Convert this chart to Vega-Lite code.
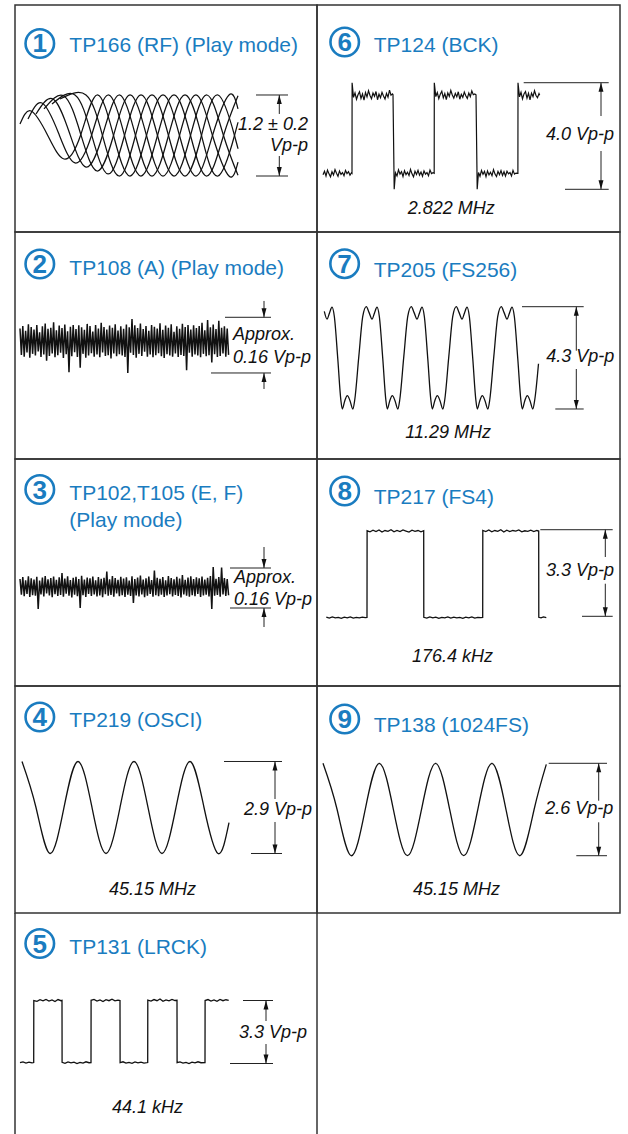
{
"$schema": "https://vega.github.io/schema/vega-lite/v6.json",
"padding": {"left": 14, "top": 4, "right": 0, "bottom": 0},
"background": "white",
"columns": 2,
"spacing": 0,
"bounds": "flush",
"resolve": {"scale": {"x": "independent", "y": "independent"}},
"config": {"view": {"stroke": "#333", "strokeWidth": 1.5}, "font": "Liberation Sans", "concat": {"spacing": 0}},
"datasets": {
"w": [
{"p":1,"s":0,"t":50,"v":0.170},{"p":1,"s":0,"t":160,"v":0.363},{"p":1,"s":0,"t":325,"v":0.008},{"p":1,"s":0,"t":490,"v":-0.348},{"p":1,"s":0,"t":655,"v":0},{"p":1,"s":0,"t":820,"v":0.6},{"p":1,"s":0,"t":985,"v":0},{"p":1,"s":0,"t":1150,"v":-0.6},{"p":1,"s":0,"t":1315,"v":0},{"p":1,"s":0,"t":1480,"v":0.6},{"p":1,"s":0,"t":1645,"v":0},{"p":1,"s":0,"t":1810,"v":-0.6},{"p":1,"s":0,"t":1975,"v":0},{"p":1,"s":0,"t":2140,"v":0.6},{"p":1,"s":0,"t":2230,"v":0.394},
{"p":1,"s":1,"t":130,"v":0.244},{"p":1,"s":1,"t":270,"v":0.481},{"p":1,"s":1,"t":435,"v":0.037},{"p":1,"s":1,"t":600,"v":-0.407},{"p":1,"s":1,"t":765,"v":0},{"p":1,"s":1,"t":930,"v":0.6},{"p":1,"s":1,"t":1095,"v":0},{"p":1,"s":1,"t":1260,"v":-0.6},{"p":1,"s":1,"t":1425,"v":0},{"p":1,"s":1,"t":1590,"v":0.6},{"p":1,"s":1,"t":1755,"v":0},{"p":1,"s":1,"t":1920,"v":-0.6},{"p":1,"s":1,"t":2085,"v":0},{"p":1,"s":1,"t":2230,"v":0.589},
{"p":1,"s":2,"t":210,"v":0.319},{"p":1,"s":2,"t":380,"v":0.541},{"p":1,"s":2,"t":545,"v":0.037},{"p":1,"s":2,"t":710,"v":-0.467},{"p":1,"s":2,"t":875,"v":0},{"p":1,"s":2,"t":1040,"v":0.6},{"p":1,"s":2,"t":1205,"v":0},{"p":1,"s":2,"t":1370,"v":-0.6},{"p":1,"s":2,"t":1535,"v":0},{"p":1,"s":2,"t":1700,"v":0.6},{"p":1,"s":2,"t":1865,"v":0},{"p":1,"s":2,"t":2030,"v":-0.6},{"p":1,"s":2,"t":2195,"v":0},{"p":1,"s":2,"t":2230,"v":0.196},
{"p":1,"s":3,"t":290,"v":0.393},{"p":1,"s":3,"t":490,"v":0.585},{"p":1,"s":3,"t":655,"v":0.030},{"p":1,"s":3,"t":820,"v":-0.526},{"p":1,"s":3,"t":985,"v":0},{"p":1,"s":3,"t":1150,"v":0.6},{"p":1,"s":3,"t":1315,"v":0},{"p":1,"s":3,"t":1480,"v":-0.6},{"p":1,"s":3,"t":1645,"v":0},{"p":1,"s":3,"t":1810,"v":0.6},{"p":1,"s":3,"t":1975,"v":0},{"p":1,"s":3,"t":2140,"v":-0.6},{"p":1,"s":3,"t":2230,"v":-0.394},
{"p":1,"s":4,"t":370,"v":0.467},{"p":1,"s":4,"t":600,"v":0.6},{"p":1,"s":4,"t":765,"v":0.015},{"p":1,"s":4,"t":930,"v":-0.570},{"p":1,"s":4,"t":1095,"v":0},{"p":1,"s":4,"t":1260,"v":0.6},{"p":1,"s":4,"t":1425,"v":0},{"p":1,"s":4,"t":1590,"v":-0.6},{"p":1,"s":4,"t":1755,"v":0},{"p":1,"s":4,"t":1920,"v":0.6},{"p":1,"s":4,"t":2085,"v":0},{"p":1,"s":4,"t":2230,"v":-0.589},
{"p":1,"s":5,"t":450,"v":0.541},{"p":1,"s":5,"t":710,"v":0.6},{"p":1,"s":5,"t":875,"v":0},{"p":1,"s":5,"t":1040,"v":-0.6},{"p":1,"s":5,"t":1205,"v":0},{"p":1,"s":5,"t":1370,"v":0.6},{"p":1,"s":5,"t":1535,"v":0},{"p":1,"s":5,"t":1700,"v":-0.6},{"p":1,"s":5,"t":1865,"v":0},{"p":1,"s":5,"t":2030,"v":0.6},{"p":1,"s":5,"t":2195,"v":0},{"p":1,"s":5,"t":2230,"v":-0.196},
{"p":2,"t":50,"v":0.048},{"p":2,"t":64,"v":-0.028},{"p":2,"t":78,"v":0.055},{"p":2,"t":92,"v":-0.033},{"p":2,"t":106,"v":0.041},{"p":2,"t":120,"v":-0.021},{"p":2,"t":134,"v":0.060},{"p":2,"t":148,"v":-0.036},{"p":2,"t":162,"v":0.052},{"p":2,"t":176,"v":-0.025},{"p":2,"t":190,"v":0.045},{"p":2,"t":204,"v":-0.030},{"p":2,"t":218,"v":0.058},{"p":2,"t":232,"v":-0.018},{"p":2,"t":246,"v":0.037},{"p":2,"t":260,"v":-0.034},{"p":2,"t":274,"v":0.054},{"p":2,"t":288,"v":-0.027},{"p":2,"t":302,"v":0.062},{"p":2,"t":316,"v":-0.045},{"p":2,"t":330,"v":0.047},{"p":2,"t":344,"v":-0.031},{"p":2,"t":358,"v":0.050},{"p":2,"t":372,"v":-0.024},{"p":2,"t":386,"v":0.066},{"p":2,"t":400,"v":-0.035},{"p":2,"t":414,"v":0.043},{"p":2,"t":428,"v":-0.029},{"p":2,"t":442,"v":0.056},{"p":2,"t":456,"v":-0.022},{"p":2,"t":470,"v":0.049},{"p":2,"t":484,"v":-0.037},{"p":2,"t":498,"v":0.059},{"p":2,"t":512,"v":-0.026},{"p":2,"t":526,"v":0.040},{"p":2,"t":540,"v":-0.078},{"p":2,"t":554,"v":0.053},{"p":2,"t":568,"v":-0.032},{"p":2,"t":582,"v":0.058},{"p":2,"t":596,"v":-0.020},{"p":2,"t":610,"v":0.046},{"p":2,"t":624,"v":-0.034},{"p":2,"t":638,"v":0.057},{"p":2,"t":652,"v":-0.065},{"p":2,"t":666,"v":0.051},{"p":2,"t":680,"v":-0.025},{"p":2,"t":694,"v":0.044},{"p":2,"t":708,"v":-0.036},{"p":2,"t":722,"v":0.061},{"p":2,"t":736,"v":-0.030},{"p":2,"t":750,"v":0.055},{"p":2,"t":764,"v":-0.023},{"p":2,"t":778,"v":0.039},{"p":2,"t":792,"v":-0.033},{"p":2,"t":806,"v":0.058},{"p":2,"t":820,"v":-0.027},{"p":2,"t":834,"v":0.048},{"p":2,"t":848,"v":-0.035},{"p":2,"t":862,"v":0.064},{"p":2,"t":876,"v":-0.021},{"p":2,"t":890,"v":0.052},{"p":2,"t":904,"v":-0.031},{"p":2,"t":918,"v":0.045},{"p":2,"t":932,"v":-0.029},{"p":2,"t":946,"v":0.056},{"p":2,"t":960,"v":-0.038},{"p":2,"t":974,"v":0.050},{"p":2,"t":988,"v":-0.024},{"p":2,"t":1002,"v":0.060},{"p":2,"t":1016,"v":-0.032},{"p":2,"t":1030,"v":0.042},{"p":2,"t":1044,"v":-0.026},{"p":2,"t":1058,"v":0.054},{"p":2,"t":1072,"v":-0.030},{"p":2,"t":1086,"v":0.047},{"p":2,"t":1100,"v":-0.034},{"p":2,"t":1114,"v":0.059},{"p":2,"t":1128,"v":-0.080},{"p":2,"t":1142,"v":0.051},{"p":2,"t":1156,"v":-0.022},{"p":2,"t":1170,"v":0.075},{"p":2,"t":1184,"v":-0.028},{"p":2,"t":1198,"v":0.057},{"p":2,"t":1212,"v":-0.036},{"p":2,"t":1226,"v":0.049},{"p":2,"t":1240,"v":-0.025},{"p":2,"t":1254,"v":0.062},{"p":2,"t":1268,"v":-0.031},{"p":2,"t":1282,"v":0.046},{"p":2,"t":1296,"v":-0.019},{"p":2,"t":1310,"v":0.055},{"p":2,"t":1324,"v":-0.033},{"p":2,"t":1338,"v":0.041},{"p":2,"t":1352,"v":-0.027},{"p":2,"t":1366,"v":0.058},{"p":2,"t":1380,"v":-0.035},{"p":2,"t":1394,"v":0.053},{"p":2,"t":1408,"v":-0.029},{"p":2,"t":1422,"v":0.048},{"p":2,"t":1436,"v":-0.023},{"p":2,"t":1450,"v":0.063},{"p":2,"t":1464,"v":-0.032},{"p":2,"t":1478,"v":0.044},{"p":2,"t":1492,"v":-0.037},{"p":2,"t":1506,"v":0.056},{"p":2,"t":1520,"v":-0.026},{"p":2,"t":1534,"v":0.050},{"p":2,"t":1548,"v":-0.030},{"p":2,"t":1562,"v":0.060},{"p":2,"t":1576,"v":-0.033},{"p":2,"t":1590,"v":0.038},{"p":2,"t":1604,"v":-0.024},{"p":2,"t":1618,"v":0.054},{"p":2,"t":1632,"v":-0.034},{"p":2,"t":1646,"v":0.047},{"p":2,"t":1660,"v":-0.028},{"p":2,"t":1674,"v":0.061},{"p":2,"t":1688,"v":-0.031},{"p":2,"t":1702,"v":0.052},{"p":2,"t":1716,"v":-0.072},{"p":2,"t":1730,"v":0.058},{"p":2,"t":1744,"v":-0.022},{"p":2,"t":1758,"v":0.045},{"p":2,"t":1772,"v":-0.033},{"p":2,"t":1786,"v":0.057},{"p":2,"t":1800,"v":-0.027},{"p":2,"t":1814,"v":0.049},{"p":2,"t":1828,"v":-0.030},{"p":2,"t":1842,"v":0.055},{"p":2,"t":1856,"v":-0.035},{"p":2,"t":1870,"v":0.064},{"p":2,"t":1884,"v":-0.025},{"p":2,"t":1898,"v":0.043},{"p":2,"t":1912,"v":-0.032},{"p":2,"t":1926,"v":0.072},{"p":2,"t":1940,"v":-0.029},{"p":2,"t":1954,"v":0.051},{"p":2,"t":1968,"v":-0.050},{"p":2,"t":1982,"v":0.059},{"p":2,"t":1996,"v":-0.026},{"p":2,"t":2010,"v":0.046},{"p":2,"t":2024,"v":-0.034},{"p":2,"t":2038,"v":0.070},{"p":2,"t":2052,"v":-0.031},{"p":2,"t":2066,"v":0.050},{"p":2,"t":2080,"v":-0.024},{"p":2,"t":2094,"v":0.054},{"p":2,"t":2108,"v":-0.033},{"p":2,"t":2122,"v":0.048},{"p":2,"t":2136,"v":-0.028},
{"p":3,"t":50,"v":0.036},{"p":3,"t":64,"v":-0.027},{"p":3,"t":78,"v":0.044},{"p":3,"t":92,"v":-0.033},{"p":3,"t":106,"v":0.031},{"p":3,"t":120,"v":-0.024},{"p":3,"t":134,"v":0.047},{"p":3,"t":148,"v":-0.036},{"p":3,"t":162,"v":0.039},{"p":3,"t":176,"v":-0.029},{"p":3,"t":190,"v":0.034},{"p":3,"t":204,"v":-0.031},{"p":3,"t":218,"v":0.045},{"p":3,"t":232,"v":-0.084},{"p":3,"t":246,"v":0.030},{"p":3,"t":260,"v":-0.026},{"p":3,"t":274,"v":0.042},{"p":3,"t":288,"v":-0.034},{"p":3,"t":302,"v":0.048},{"p":3,"t":316,"v":-0.022},{"p":3,"t":330,"v":0.035},{"p":3,"t":344,"v":-0.030},{"p":3,"t":358,"v":0.040},{"p":3,"t":372,"v":-0.037},{"p":3,"t":386,"v":0.046},{"p":3,"t":400,"v":-0.025},{"p":3,"t":414,"v":0.033},{"p":3,"t":428,"v":-0.032},{"p":3,"t":442,"v":0.043},{"p":3,"t":456,"v":-0.028},{"p":3,"t":470,"v":0.060},{"p":3,"t":484,"v":-0.035},{"p":3,"t":498,"v":0.038},{"p":3,"t":512,"v":-0.023},{"p":3,"t":526,"v":0.047},{"p":3,"t":540,"v":-0.031},{"p":3,"t":554,"v":0.032},{"p":3,"t":568,"v":-0.038},{"p":3,"t":582,"v":0.041},{"p":3,"t":596,"v":-0.027},{"p":3,"t":610,"v":0.045},{"p":3,"t":624,"v":-0.033},{"p":3,"t":638,"v":0.036},{"p":3,"t":652,"v":-0.080},{"p":3,"t":666,"v":0.049},{"p":3,"t":680,"v":-0.029},{"p":3,"t":694,"v":0.034},{"p":3,"t":708,"v":-0.036},{"p":3,"t":722,"v":0.042},{"p":3,"t":736,"v":-0.024},{"p":3,"t":750,"v":0.039},{"p":3,"t":764,"v":-0.032},{"p":3,"t":778,"v":0.046},{"p":3,"t":792,"v":-0.026},{"p":3,"t":806,"v":0.031},{"p":3,"t":820,"v":-0.034},{"p":3,"t":834,"v":0.044},{"p":3,"t":848,"v":-0.030},{"p":3,"t":862,"v":0.037},{"p":3,"t":876,"v":-0.037},{"p":3,"t":890,"v":0.041},{"p":3,"t":904,"v":-0.025},{"p":3,"t":918,"v":0.066},{"p":3,"t":932,"v":-0.031},{"p":3,"t":946,"v":0.035},{"p":3,"t":960,"v":-0.028},{"p":3,"t":974,"v":0.048},{"p":3,"t":988,"v":-0.035},{"p":3,"t":1002,"v":0.040},{"p":3,"t":1016,"v":-0.022},{"p":3,"t":1030,"v":0.033},{"p":3,"t":1044,"v":-0.033},{"p":3,"t":1058,"v":0.045},{"p":3,"t":1072,"v":-0.029},{"p":3,"t":1086,"v":0.038},{"p":3,"t":1100,"v":-0.036},{"p":3,"t":1114,"v":0.043},{"p":3,"t":1128,"v":-0.027},{"p":3,"t":1142,"v":0.030},{"p":3,"t":1156,"v":-0.032},{"p":3,"t":1170,"v":0.047},{"p":3,"t":1184,"v":-0.060},{"p":3,"t":1198,"v":0.036},{"p":3,"t":1212,"v":-0.030},{"p":3,"t":1226,"v":0.042},{"p":3,"t":1240,"v":-0.034},{"p":3,"t":1254,"v":0.050},{"p":3,"t":1268,"v":-0.026},{"p":3,"t":1282,"v":0.034},{"p":3,"t":1296,"v":-0.037},{"p":3,"t":1310,"v":0.039},{"p":3,"t":1324,"v":-0.031},{"p":3,"t":1338,"v":0.046},{"p":3,"t":1352,"v":-0.024},{"p":3,"t":1366,"v":0.032},{"p":3,"t":1380,"v":-0.035},{"p":3,"t":1394,"v":0.070},{"p":3,"t":1408,"v":-0.029},{"p":3,"t":1422,"v":0.041},{"p":3,"t":1436,"v":-0.033},{"p":3,"t":1450,"v":0.037},{"p":3,"t":1464,"v":-0.027},{"p":3,"t":1478,"v":0.044},{"p":3,"t":1492,"v":-0.036},{"p":3,"t":1506,"v":0.031},{"p":3,"t":1520,"v":-0.030},{"p":3,"t":1534,"v":0.048},{"p":3,"t":1548,"v":-0.025},{"p":3,"t":1562,"v":0.040},{"p":3,"t":1576,"v":-0.034},{"p":3,"t":1590,"v":0.035},{"p":3,"t":1604,"v":-0.028},{"p":3,"t":1618,"v":0.045},{"p":3,"t":1632,"v":-0.032},{"p":3,"t":1646,"v":0.038},{"p":3,"t":1660,"v":-0.038},{"p":3,"t":1674,"v":0.052},{"p":3,"t":1688,"v":-0.026},{"p":3,"t":1702,"v":0.033},{"p":3,"t":1716,"v":-0.031},{"p":3,"t":1730,"v":0.042},{"p":3,"t":1744,"v":-0.035},{"p":3,"t":1758,"v":0.047},{"p":3,"t":1772,"v":-0.029},{"p":3,"t":1786,"v":0.036},{"p":3,"t":1800,"v":-0.033},{"p":3,"t":1814,"v":0.043},{"p":3,"t":1828,"v":-0.024},{"p":3,"t":1842,"v":0.039},{"p":3,"t":1856,"v":-0.036},{"p":3,"t":1870,"v":0.046},{"p":3,"t":1884,"v":-0.030},{"p":3,"t":1898,"v":0.034},{"p":3,"t":1912,"v":-0.027},{"p":3,"t":1926,"v":0.041},{"p":3,"t":1940,"v":-0.034},{"p":3,"t":1954,"v":0.048},{"p":3,"t":1968,"v":-0.084},{"p":3,"t":1982,"v":0.084},{"p":3,"t":1996,"v":-0.031},{"p":3,"t":2010,"v":0.037},{"p":3,"t":2024,"v":-0.028},{"p":3,"t":2038,"v":0.044},{"p":3,"t":2052,"v":-0.035},{"p":3,"t":2066,"v":0.082},{"p":3,"t":2080,"v":-0.026},{"p":3,"t":2094,"v":0.040},{"p":3,"t":2108,"v":-0.032},{"p":3,"t":2122,"v":0.036},{"p":3,"t":2136,"v":-0.029},
{"p":4,"t":70,"v":1.45},{"p":4,"t":210,"v":0},{"p":4,"t":350,"v":-1.45},{"p":4,"t":490,"v":0},{"p":4,"t":630,"v":1.45},{"p":4,"t":770,"v":0},{"p":4,"t":910,"v":-1.45},{"p":4,"t":1050,"v":0},{"p":4,"t":1190,"v":1.45},{"p":4,"t":1330,"v":0},{"p":4,"t":1470,"v":-1.45},{"p":4,"t":1610,"v":0},{"p":4,"t":1750,"v":1.45},{"p":4,"t":1890,"v":0},{"p":4,"t":2030,"v":-1.45},{"p":4,"t":2140,"v":-0.479},
{"p":5,"t":50,"v":0.04},{"p":5,"t":80,"v":0.08},{"p":5,"t":110,"v":0.02},{"p":5,"t":140,"v":0.07},{"p":5,"t":170,"v":0.03},{"p":5,"t":187,"v":0.05},{"p":5,"t":188,"v":3.30},{"p":5,"t":220,"v":3.26},{"p":5,"t":250,"v":3.34},{"p":5,"t":280,"v":3.28},{"p":5,"t":310,"v":3.36},{"p":5,"t":340,"v":3.27},{"p":5,"t":370,"v":3.33},{"p":5,"t":400,"v":3.25},{"p":5,"t":430,"v":3.35},{"p":5,"t":460,"v":3.29},{"p":5,"t":470,"v":3.31},{"p":5,"t":471,"v":0.06},{"p":5,"t":500,"v":0.01},{"p":5,"t":530,"v":0.08},{"p":5,"t":560,"v":0.03},{"p":5,"t":590,"v":0.07},{"p":5,"t":620,"v":0.00},{"p":5,"t":650,"v":0.06},{"p":5,"t":680,"v":0.02},{"p":5,"t":710,"v":0.09},{"p":5,"t":740,"v":0.04},{"p":5,"t":760,"v":0.05},{"p":5,"t":761,"v":3.31},{"p":5,"t":790,"v":3.36},{"p":5,"t":820,"v":3.27},{"p":5,"t":850,"v":3.33},{"p":5,"t":880,"v":3.25},{"p":5,"t":910,"v":3.34},{"p":5,"t":940,"v":3.29},{"p":5,"t":970,"v":3.37},{"p":5,"t":1000,"v":3.28},{"p":5,"t":1030,"v":3.32},{"p":5,"t":1050,"v":3.30},{"p":5,"t":1051,"v":0.05},{"p":5,"t":1080,"v":0.09},{"p":5,"t":1110,"v":0.02},{"p":5,"t":1140,"v":0.06},{"p":5,"t":1170,"v":0.01},{"p":5,"t":1200,"v":0.08},{"p":5,"t":1230,"v":0.03},{"p":5,"t":1260,"v":0.07},{"p":5,"t":1290,"v":0.02},{"p":5,"t":1327,"v":0.05},{"p":5,"t":1328,"v":3.32},{"p":5,"t":1360,"v":3.27},{"p":5,"t":1390,"v":3.35},{"p":5,"t":1420,"v":3.29},{"p":5,"t":1450,"v":3.38},{"p":5,"t":1480,"v":3.26},{"p":5,"t":1510,"v":3.33},{"p":5,"t":1540,"v":3.28},{"p":5,"t":1570,"v":3.36},{"p":5,"t":1600,"v":3.30},{"p":5,"t":1620,"v":3.31},{"p":5,"t":1621,"v":0.04},{"p":5,"t":1650,"v":0.08},{"p":5,"t":1680,"v":0.02},{"p":5,"t":1710,"v":0.06},{"p":5,"t":1740,"v":0.00},{"p":5,"t":1770,"v":0.07},{"p":5,"t":1800,"v":0.03},{"p":5,"t":1830,"v":0.09},{"p":5,"t":1860,"v":0.04},{"p":5,"t":1900,"v":0.05},{"p":5,"t":1901,"v":3.30},{"p":5,"t":1930,"v":3.35},{"p":5,"t":1960,"v":3.27},{"p":5,"t":1990,"v":3.33},{"p":5,"t":2020,"v":3.26},{"p":5,"t":2050,"v":3.36},{"p":5,"t":2080,"v":3.29},{"p":5,"t":2110,"v":3.34},{"p":5,"t":2137,"v":3.31},
{"p":6,"t":60,"v":0.55},{"p":6,"t":75,"v":0.68},{"p":6,"t":90,"v":0.50},{"p":6,"t":105,"v":0.72},{"p":6,"t":120,"v":0.58},{"p":6,"t":135,"v":0.47},{"p":6,"t":150,"v":0.66},{"p":6,"t":165,"v":0.54},{"p":6,"t":180,"v":0.74},{"p":6,"t":195,"v":0.60},{"p":6,"t":210,"v":0.49},{"p":6,"t":225,"v":0.69},{"p":6,"t":240,"v":0.56},{"p":6,"t":255,"v":0.63},{"p":6,"t":270,"v":0.51},{"p":6,"t":285,"v":0.71},{"p":6,"t":300,"v":0.59},{"p":6,"t":315,"v":0.66},{"p":6,"t":330,"v":0.53},{"p":6,"t":345,"v":0.62},{"p":6,"t":350,"v":0.60},{"p":6,"t":351,"v":4.0},{"p":6,"t":365,"v":3.45},{"p":6,"t":380,"v":3.62},{"p":6,"t":395,"v":3.38},{"p":6,"t":410,"v":3.55},{"p":6,"t":425,"v":3.66},{"p":6,"t":440,"v":3.41},{"p":6,"t":455,"v":3.58},{"p":6,"t":470,"v":3.35},{"p":6,"t":485,"v":3.63},{"p":6,"t":500,"v":3.47},{"p":6,"t":515,"v":3.70},{"p":6,"t":530,"v":3.52},{"p":6,"t":545,"v":3.40},{"p":6,"t":560,"v":3.61},{"p":6,"t":575,"v":3.49},{"p":6,"t":590,"v":3.67},{"p":6,"t":605,"v":3.36},{"p":6,"t":620,"v":3.57},{"p":6,"t":635,"v":3.44},{"p":6,"t":650,"v":3.64},{"p":6,"t":665,"v":3.50},{"p":6,"t":680,"v":3.39},{"p":6,"t":695,"v":3.60},{"p":6,"t":710,"v":3.46},{"p":6,"t":725,"v":3.72},{"p":6,"t":740,"v":3.53},{"p":6,"t":755,"v":3.58},{"p":6,"t":760,"v":3.55},{"p":6,"t":772,"v":0.0},{"p":6,"t":785,"v":0.62},{"p":6,"t":800,"v":0.50},{"p":6,"t":815,"v":0.73},{"p":6,"t":830,"v":0.57},{"p":6,"t":845,"v":0.66},{"p":6,"t":860,"v":0.48},{"p":6,"t":875,"v":0.70},{"p":6,"t":890,"v":0.55},{"p":6,"t":905,"v":0.64},{"p":6,"t":920,"v":0.52},{"p":6,"t":935,"v":0.75},{"p":6,"t":950,"v":0.58},{"p":6,"t":965,"v":0.47},{"p":6,"t":980,"v":0.68},{"p":6,"t":995,"v":0.56},{"p":6,"t":1010,"v":0.71},{"p":6,"t":1025,"v":0.53},{"p":6,"t":1040,"v":0.65},{"p":6,"t":1055,"v":0.49},{"p":6,"t":1070,"v":0.69},{"p":6,"t":1085,"v":0.57},{"p":6,"t":1100,"v":0.63},{"p":6,"t":1115,"v":0.51},{"p":6,"t":1130,"v":0.72},{"p":6,"t":1145,"v":0.59},{"p":6,"t":1160,"v":0.62},{"p":6,"t":1172,"v":0.60},{"p":6,"t":1173,"v":4.0},{"p":6,"t":1188,"v":3.48},{"p":6,"t":1203,"v":3.63},{"p":6,"t":1218,"v":3.40},{"p":6,"t":1233,"v":3.57},{"p":6,"t":1248,"v":3.68},{"p":6,"t":1263,"v":3.43},{"p":6,"t":1278,"v":3.59},{"p":6,"t":1293,"v":3.37},{"p":6,"t":1308,"v":3.62},{"p":6,"t":1323,"v":3.49},{"p":6,"t":1338,"v":3.71},{"p":6,"t":1353,"v":3.54},{"p":6,"t":1368,"v":3.42},{"p":6,"t":1383,"v":3.60},{"p":6,"t":1398,"v":3.47},{"p":6,"t":1413,"v":3.66},{"p":6,"t":1428,"v":3.38},{"p":6,"t":1443,"v":3.56},{"p":6,"t":1458,"v":3.45},{"p":6,"t":1473,"v":3.65},{"p":6,"t":1488,"v":3.51},{"p":6,"t":1503,"v":3.41},{"p":6,"t":1518,"v":3.61},{"p":6,"t":1533,"v":3.48},{"p":6,"t":1548,"v":3.69},{"p":6,"t":1563,"v":3.55},{"p":6,"t":1578,"v":3.58},{"p":6,"t":1590,"v":3.55},{"p":6,"t":1602,"v":0.0},{"p":6,"t":1615,"v":0.63},{"p":6,"t":1630,"v":0.49},{"p":6,"t":1645,"v":0.71},{"p":6,"t":1660,"v":0.56},{"p":6,"t":1675,"v":0.67},{"p":6,"t":1690,"v":0.47},{"p":6,"t":1705,"v":0.69},{"p":6,"t":1720,"v":0.54},{"p":6,"t":1735,"v":0.64},{"p":6,"t":1750,"v":0.51},{"p":6,"t":1765,"v":0.74},{"p":6,"t":1780,"v":0.57},{"p":6,"t":1795,"v":0.48},{"p":6,"t":1810,"v":0.67},{"p":6,"t":1825,"v":0.55},{"p":6,"t":1840,"v":0.70},{"p":6,"t":1855,"v":0.52},{"p":6,"t":1870,"v":0.66},{"p":6,"t":1885,"v":0.50},{"p":6,"t":1900,"v":0.68},{"p":6,"t":1915,"v":0.58},{"p":6,"t":1930,"v":0.63},{"p":6,"t":1945,"v":0.50},{"p":6,"t":1960,"v":0.71},{"p":6,"t":1975,"v":0.57},{"p":6,"t":1990,"v":0.61},{"p":6,"t":2009,"v":0.60},{"p":6,"t":2010,"v":4.0},{"p":6,"t":2025,"v":3.47},{"p":6,"t":2040,"v":3.64},{"p":6,"t":2055,"v":3.39},{"p":6,"t":2070,"v":3.58},{"p":6,"t":2085,"v":3.67},{"p":6,"t":2100,"v":3.42},{"p":6,"t":2115,"v":3.60},{"p":6,"t":2130,"v":3.36},{"p":6,"t":2145,"v":3.61},{"p":6,"t":2160,"v":3.48},{"p":6,"t":2175,"v":3.70},{"p":6,"t":2190,"v":3.52},{"p":6,"t":2205,"v":3.44},{"p":6,"t":2220,"v":3.59},{"p":6,"t":2227,"v":3.53},
{"p":7,"t":73,"v":4.1},{"p":7,"t":100,"v":3.78},{"p":7,"t":126,"v":4.05},{"p":7,"t":150,"v":4.28},{"p":7,"t":173,"v":3.9},{"p":7,"t":208,"v":2.1},{"p":7,"t":238,"v":0.4},{"p":7,"t":253,"v":0.0},{"p":7,"t":278,"v":0.35},{"p":7,"t":303,"v":0.56},{"p":7,"t":330,"v":0.35},{"p":7,"t":358,"v":0.0},{"p":7,"t":378,"v":0.4},{"p":7,"t":418,"v":2.2},{"p":7,"t":458,"v":3.9},{"p":7,"t":493,"v":4.3},{"p":7,"t":521,"v":4.05},{"p":7,"t":550,"v":3.78},{"p":7,"t":576,"v":4.05},{"p":7,"t":600,"v":4.28},{"p":7,"t":623,"v":3.9},{"p":7,"t":658,"v":2.1},{"p":7,"t":688,"v":0.4},{"p":7,"t":703,"v":0.0},{"p":7,"t":728,"v":0.35},{"p":7,"t":753,"v":0.56},{"p":7,"t":780,"v":0.35},{"p":7,"t":808,"v":0.0},{"p":7,"t":828,"v":0.4},{"p":7,"t":868,"v":2.2},{"p":7,"t":908,"v":3.9},{"p":7,"t":943,"v":4.3},{"p":7,"t":971,"v":4.05},{"p":7,"t":1000,"v":3.78},{"p":7,"t":1026,"v":4.05},{"p":7,"t":1050,"v":4.28},{"p":7,"t":1073,"v":3.9},{"p":7,"t":1108,"v":2.1},{"p":7,"t":1138,"v":0.4},{"p":7,"t":1153,"v":0.0},{"p":7,"t":1178,"v":0.35},{"p":7,"t":1203,"v":0.56},{"p":7,"t":1230,"v":0.35},{"p":7,"t":1258,"v":0.0},{"p":7,"t":1278,"v":0.4},{"p":7,"t":1318,"v":2.2},{"p":7,"t":1358,"v":3.9},{"p":7,"t":1393,"v":4.3},{"p":7,"t":1421,"v":4.05},{"p":7,"t":1450,"v":3.78},{"p":7,"t":1476,"v":4.05},{"p":7,"t":1500,"v":4.28},{"p":7,"t":1523,"v":3.9},{"p":7,"t":1558,"v":2.1},{"p":7,"t":1588,"v":0.4},{"p":7,"t":1603,"v":0.0},{"p":7,"t":1628,"v":0.35},{"p":7,"t":1653,"v":0.56},{"p":7,"t":1680,"v":0.35},{"p":7,"t":1708,"v":0.0},{"p":7,"t":1728,"v":0.4},{"p":7,"t":1768,"v":2.2},{"p":7,"t":1808,"v":3.9},{"p":7,"t":1843,"v":4.3},{"p":7,"t":1871,"v":4.05},{"p":7,"t":1900,"v":3.78},{"p":7,"t":1926,"v":4.05},{"p":7,"t":1950,"v":4.28},{"p":7,"t":1973,"v":3.9},{"p":7,"t":2008,"v":2.1},{"p":7,"t":2038,"v":0.4},{"p":7,"t":2053,"v":0.0},{"p":7,"t":2078,"v":0.35},{"p":7,"t":2103,"v":0.56},{"p":7,"t":2130,"v":0.35},{"p":7,"t":2158,"v":0.0},{"p":7,"t":2178,"v":0.4},{"p":7,"t":2215,"v":1.9},
{"p":8,"t":93,"v":-0.03},{"p":8,"t":123,"v":-0.07},{"p":8,"t":153,"v":-0.02},{"p":8,"t":183,"v":-0.06},{"p":8,"t":213,"v":-0.04},{"p":8,"t":243,"v":-0.08},{"p":8,"t":273,"v":-0.03},{"p":8,"t":303,"v":-0.06},{"p":8,"t":333,"v":-0.02},{"p":8,"t":363,"v":-0.07},{"p":8,"t":393,"v":-0.04},{"p":8,"t":423,"v":-0.06},{"p":8,"t":453,"v":-0.03},{"p":8,"t":483,"v":-0.05},{"p":8,"t":500,"v":-0.04},{"p":8,"t":501,"v":3.26},{"p":8,"t":530,"v":3.22},{"p":8,"t":560,"v":3.28},{"p":8,"t":590,"v":3.23},{"p":8,"t":620,"v":3.29},{"p":8,"t":650,"v":3.21},{"p":8,"t":680,"v":3.27},{"p":8,"t":710,"v":3.24},{"p":8,"t":740,"v":3.30},{"p":8,"t":770,"v":3.22},{"p":8,"t":800,"v":3.27},{"p":8,"t":830,"v":3.23},{"p":8,"t":860,"v":3.29},{"p":8,"t":890,"v":3.25},{"p":8,"t":920,"v":3.21},{"p":8,"t":950,"v":3.28},{"p":8,"t":980,"v":3.24},{"p":8,"t":1010,"v":3.27},{"p":8,"t":1040,"v":3.22},{"p":8,"t":1067,"v":3.26},{"p":8,"t":1068,"v":-0.04},{"p":8,"t":1098,"v":-0.07},{"p":8,"t":1128,"v":-0.02},{"p":8,"t":1158,"v":-0.06},{"p":8,"t":1188,"v":-0.03},{"p":8,"t":1218,"v":-0.08},{"p":8,"t":1248,"v":-0.04},{"p":8,"t":1278,"v":-0.06},{"p":8,"t":1308,"v":-0.02},{"p":8,"t":1338,"v":-0.07},{"p":8,"t":1368,"v":-0.03},{"p":8,"t":1398,"v":-0.06},{"p":8,"t":1428,"v":-0.04},{"p":8,"t":1458,"v":-0.08},{"p":8,"t":1488,"v":-0.03},{"p":8,"t":1518,"v":-0.06},{"p":8,"t":1548,"v":-0.02},{"p":8,"t":1578,"v":-0.07},{"p":8,"t":1608,"v":-0.04},{"p":8,"t":1638,"v":-0.05},{"p":8,"t":1657,"v":-0.04},{"p":8,"t":1658,"v":3.27},{"p":8,"t":1688,"v":3.23},{"p":8,"t":1718,"v":3.29},{"p":8,"t":1748,"v":3.22},{"p":8,"t":1778,"v":3.27},{"p":8,"t":1808,"v":3.24},{"p":8,"t":1838,"v":3.30},{"p":8,"t":1868,"v":3.21},{"p":8,"t":1898,"v":3.28},{"p":8,"t":1928,"v":3.23},{"p":8,"t":1958,"v":3.27},{"p":8,"t":1988,"v":3.25},{"p":8,"t":2018,"v":3.29},{"p":8,"t":2048,"v":3.22},{"p":8,"t":2078,"v":3.26},{"p":8,"t":2108,"v":3.24},{"p":8,"t":2138,"v":3.28},{"p":8,"t":2168,"v":3.23},{"p":8,"t":2198,"v":3.27},{"p":8,"t":2217,"v":3.25},{"p":8,"t":2218,"v":-0.04},{"p":8,"t":2240,"v":-0.06},{"p":8,"t":2265,"v":-0.02},{"p":8,"t":2293,"v":-0.05},
{"p":9,"t":60,"v":1.3},{"p":9,"t":201,"v":0},{"p":9,"t":341.5,"v":-1.3},{"p":9,"t":482,"v":0},{"p":9,"t":623,"v":1.3},{"p":9,"t":764,"v":0},{"p":9,"t":904.5,"v":-1.3},{"p":9,"t":1045,"v":0},{"p":9,"t":1186,"v":1.3},{"p":9,"t":1327,"v":0},{"p":9,"t":1467.5,"v":-1.3},{"p":9,"t":1608,"v":0},{"p":9,"t":1749,"v":1.3},{"p":9,"t":1890,"v":0},{"p":9,"t":2030.5,"v":-1.3},{"p":9,"t":2171,"v":0},{"p":9,"t":2293,"v":1.271}
],
"r": [
{"p":1,"t":2410,"t2":2730,"v":0.6},{"p":1,"t":2410,"t2":2730,"v":-0.6},
{"p":2,"t":2100,"t2":2560,"v":0.080},{"p":2,"t":1960,"t2":2560,"v":-0.080},
{"p":3,"t":2150,"t2":2560,"v":0.080},{"p":3,"t":2150,"t2":2560,"v":-0.080},
{"p":4,"t":2090,"t2":2670,"v":1.45},{"p":4,"t":2360,"t2":2670,"v":-1.45},
{"p":5,"t":2280,"t2":2580,"v":3.3},{"p":5,"t":2150,"t2":2580,"v":0},
{"p":6,"t":2067,"t2":2917,"v":4.0},{"p":6,"t":2480,"t2":2917,"v":0},
{"p":7,"t":2050,"t2":2667,"v":4.3},{"p":7,"t":2383,"t2":2667,"v":0},
{"p":8,"t":2233,"t2":2957,"v":3.3},{"p":8,"t":2650,"t2":2957,"v":0},
{"p":9,"t":2317,"t2":2900,"v":1.3},{"p":9,"t":2593,"t2":2900,"v":-1.3}
],
"a": [
{"p":1,"t":2643,"v":0.6,"v2":0.319},{"p":1,"t":2643,"v":-0.304,"v2":-0.6},
{"p":2,"t":2490,"v":0.127,"v2":0.080},{"p":2,"t":2490,"v":-0.080,"v2":-0.126},
{"p":3,"t":2490,"v":0.164,"v2":0.080},{"p":3,"t":2490,"v":-0.080,"v2":-0.156},
{"p":4,"t":2600,"v":1.45,"v2":0.268},{"p":4,"t":2600,"v":-0.457,"v2":-1.45},
{"p":5,"t":2510,"v":3.3,"v2":2.226},{"p":5,"t":2510,"v":1.021,"v2":0},
{"p":6,"t":2840,"v":4.0,"v2":2.750},{"p":6,"t":2840,"v":1.437,"v2":0},
{"p":7,"t":2593,"v":4.3,"v2":2.451},{"p":7,"t":2593,"v":1.681,"v2":0},
{"p":8,"t":2883,"v":3.3,"v2":2.260},{"p":8,"t":2883,"v":1.242,"v2":0},
{"p":9,"t":2817,"v":1.3,"v2":0.248},{"p":9,"t":2817,"v":-0.360,"v2":-1.3}
],
"h": [
{"p":1,"t":2643,"v":0.6,"d":"u"},{"p":1,"t":2643,"v":-0.6,"d":"d"},
{"p":2,"t":2490,"v":0.080,"d":"d"},{"p":2,"t":2490,"v":-0.080,"d":"u"},
{"p":3,"t":2490,"v":0.080,"d":"d"},{"p":3,"t":2490,"v":-0.080,"d":"u"},
{"p":4,"t":2600,"v":1.45,"d":"u"},{"p":4,"t":2600,"v":-1.45,"d":"d"},
{"p":5,"t":2510,"v":3.3,"d":"u"},{"p":5,"t":2510,"v":0,"d":"d"},
{"p":6,"t":2840,"v":4.0,"d":"u"},{"p":6,"t":2840,"v":0,"d":"d"},
{"p":7,"t":2593,"v":4.3,"d":"u"},{"p":7,"t":2593,"v":0,"d":"d"},
{"p":8,"t":2883,"v":3.3,"d":"u"},{"p":8,"t":2883,"v":0,"d":"d"},
{"p":9,"t":2817,"v":1.3,"d":"u"},{"p":9,"t":2817,"v":-1.3,"d":"d"}
],
"c": [
{"p":1,"t":248,"v":1.363,"n":"1"},{"p":2,"t":248,"v":0.2332,"n":"2"},{"p":3,"t":248,"v":0.394,"n":"3"},{"p":4,"t":248,"v":2.853,"n":"4"},{"p":5,"t":248,"v":6.286,"n":"5"},
{"p":6,"t":277,"v":5.527,"n":"6"},{"p":7,"t":276,"v":6.108,"n":"7"},{"p":8,"t":277,"v":4.775,"n":"8"},{"p":9,"t":277,"v":2.546,"n":"9"}
],
"tt": [
{"p":1,"t":543,"v":1.2415,"txt":"TP166 (RF) (Play mode)"},
{"p":2,"t":543,"v":0.2024,"txt":"TP108 (A) (Play mode)"},
{"p":3,"t":543,"v":0.351,"txt":"TP102,T105 (E, F)"},{"p":3,"t":543,"v":0.244,"txt":"(Play mode)"},
{"p":4,"t":543,"v":2.547,"txt":"TP219 (OSCI)"},
{"p":5,"t":543,"v":5.720,"txt":"TP131 (LRCK)"},
{"p":6,"t":567,"v":5.163,"txt":"TP124 (BCK)"},
{"p":7,"t":567,"v":5.536,"txt":"TP205 (FS256)"},
{"p":8,"t":567,"v":4.291,"txt":"TP217 (FS4)"},
{"p":9,"t":567,"v":2.172,"txt":"TP138 (1024FS)"}
],
"lb": [
{"p":1,"t":2230,"v":0.081,"txt":"1.2 ± 0.2"},{"p":1,"t":2550,"v":-0.230,"txt":"Vp-p"},
{"p":2,"t":2180,"v":0.0148,"txt":"Approx."},{"p":2,"t":2180,"v":-0.0513,"txt":"0.16 Vp-p"},
{"p":3,"t":2190,"v":0.020,"txt":"Approx."},{"p":3,"t":2190,"v":-0.068,"txt":"0.16 Vp-p"},
{"p":4,"t":2290,"v":-0.227,"txt":"2.9 Vp-p"},{"p":4,"t":940,"v":-2.749,"txt":"45.15 MHz"},
{"p":5,"t":2240,"v":1.351,"txt":"3.3 Vp-p"},{"p":5,"t":970,"v":-2.577,"txt":"44.1 kHz"},
{"p":6,"t":2290,"v":1.839,"txt":"4.0 Vp-p"},{"p":6,"t":907,"v":-0.916,"txt":"2.822 MHz"},
{"p":7,"t":2293,"v":1.963,"txt":"4.3 Vp-p"},{"p":7,"t":883,"v":-1.219,"txt":"11.29 MHz"},
{"p":8,"t":2290,"v":1.536,"txt":"3.3 Vp-p"},{"p":8,"t":950,"v":-1.742,"txt":"176.4 kHz"},
{"p":9,"t":2283,"v":-0.127,"txt":"2.6 Vp-p"},{"p":9,"t":960,"v":-2.397,"txt":"45.15 MHz"}
],
"fr": [
{"p":5,"t":0,"v":7.884,"v2":-3.745},{"p":5,"t":3020,"v":7.884,"v2":-3.745}
]
},
"concat": [
{"width":302,"height":227,
"encoding":{"x":{"field":"t","type":"quantitative","axis":null,"scale":{"domain":[0,3020],"nice":false,"zero":false}},"y":{"field":"v","type":"quantitative","axis":null,"scale":{"domain":[-1.4296,1.9333],"nice":false,"zero":false}}},
"layer":[
{"data":{"name":"w"},"transform":[{"filter":"datum.p==1"}],"mark":{"type":"line","interpolate":"natural","color":"#111","strokeWidth":1.25},"encoding":{"detail":{"field":"s","type":"nominal"}}},
{"data":{"name":"r"},"transform":[{"filter":"datum.p==1"}],"mark":{"type":"rule","color":"#222","strokeWidth":1},"encoding":{"x2":{"field":"t2"}}},
{"data":{"name":"a"},"transform":[{"filter":"datum.p==1"}],"mark":{"type":"rule","color":"#222","strokeWidth":1},"encoding":{"y2":{"field":"v2"}}},
{"data":{"name":"h"},"transform":[{"filter":"datum.p==1 && datum.d=='u'"}],"mark":{"type":"point","shape":"M0,0L0.55,2L-0.55,2Z","filled":true,"color":"#111","size":81,"opacity":1,"strokeWidth":0}},
{"data":{"name":"h"},"transform":[{"filter":"datum.p==1 && datum.d=='d'"}],"mark":{"type":"point","shape":"M0,0L0.55,-2L-0.55,-2Z","filled":true,"color":"#111","size":81,"opacity":1,"strokeWidth":0}},
{"data":{"name":"c"},"transform":[{"filter":"datum.p==1"}],"mark":{"type":"point","shape":"circle","filled":false,"color":"#1a7cc0","strokeWidth":2.6,"size":812,"opacity":1}},
{"data":{"name":"c"},"transform":[{"filter":"datum.p==1"}],"mark":{"type":"text","fontWeight":"bold","fontSize":26,"color":"#1a7cc0","align":"center","baseline":"middle","dy":1},"encoding":{"text":{"field":"n"}}},
{"data":{"name":"tt"},"transform":[{"filter":"datum.p==1"}],"mark":{"type":"text","fontSize":21,"color":"#1a7cc0","align":"left","baseline":"alphabetic"},"encoding":{"text":{"field":"txt"}}},
{"data":{"name":"lb"},"transform":[{"filter":"datum.p==1"}],"mark":{"type":"text","fontSize":18,"fontStyle":"italic","color":"#111","align":"left","baseline":"alphabetic"},"encoding":{"text":{"field":"txt"}}}
]},
{"width":303,"height":227,
"encoding":{"x":{"field":"t","type":"quantitative","axis":null,"scale":{"domain":[0,3030],"nice":false,"zero":false}},"y":{"field":"v","type":"quantitative","axis":null,"scale":{"domain":[-1.602,6.916],"nice":false,"zero":false}}},
"layer":[
{"data":{"name":"w"},"transform":[{"filter":"datum.p==6"}],"mark":{"type":"line","interpolate":"linear","color":"#111","strokeWidth":1.2}},
{"data":{"name":"r"},"transform":[{"filter":"datum.p==6"}],"mark":{"type":"rule","color":"#222","strokeWidth":1},"encoding":{"x2":{"field":"t2"}}},
{"data":{"name":"a"},"transform":[{"filter":"datum.p==6"}],"mark":{"type":"rule","color":"#222","strokeWidth":1},"encoding":{"y2":{"field":"v2"}}},
{"data":{"name":"h"},"transform":[{"filter":"datum.p==6 && datum.d=='u'"}],"mark":{"type":"point","shape":"M0,0L0.55,2L-0.55,2Z","filled":true,"color":"#111","size":81,"opacity":1,"strokeWidth":0}},
{"data":{"name":"h"},"transform":[{"filter":"datum.p==6 && datum.d=='d'"}],"mark":{"type":"point","shape":"M0,0L0.55,-2L-0.55,-2Z","filled":true,"color":"#111","size":81,"opacity":1,"strokeWidth":0}},
{"data":{"name":"c"},"transform":[{"filter":"datum.p==6"}],"mark":{"type":"point","shape":"circle","filled":false,"color":"#1a7cc0","strokeWidth":2.6,"size":812,"opacity":1}},
{"data":{"name":"c"},"transform":[{"filter":"datum.p==6"}],"mark":{"type":"text","fontWeight":"bold","fontSize":26,"color":"#1a7cc0","align":"center","baseline":"middle","dy":1},"encoding":{"text":{"field":"n"}}},
{"data":{"name":"tt"},"transform":[{"filter":"datum.p==6"}],"mark":{"type":"text","fontSize":21,"color":"#1a7cc0","align":"left","baseline":"alphabetic"},"encoding":{"text":{"field":"txt"}}},
{"data":{"name":"lb"},"transform":[{"filter":"datum.p==6"}],"mark":{"type":"text","fontSize":18,"fontStyle":"italic","color":"#111","align":"left","baseline":"alphabetic"},"encoding":{"text":{"field":"txt"}}}
]},
{"width":302,"height":227,
"encoding":{"x":{"field":"t","type":"quantitative","axis":null,"scale":{"domain":[0,3020],"nice":false,"zero":false}},"y":{"field":"v","type":"quantitative","axis":null,"scale":{"domain":[-0.3272,0.3251],"nice":false,"zero":false}}},
"layer":[
{"data":{"name":"w"},"transform":[{"filter":"datum.p==2"}],"mark":{"type":"line","interpolate":"linear","color":"#111","strokeWidth":1.5}},
{"data":{"name":"r"},"transform":[{"filter":"datum.p==2"}],"mark":{"type":"rule","color":"#222","strokeWidth":1},"encoding":{"x2":{"field":"t2"}}},
{"data":{"name":"a"},"transform":[{"filter":"datum.p==2"}],"mark":{"type":"rule","color":"#222","strokeWidth":1},"encoding":{"y2":{"field":"v2"}}},
{"data":{"name":"h"},"transform":[{"filter":"datum.p==2 && datum.d=='u'"}],"mark":{"type":"point","shape":"M0,0L0.55,2L-0.55,2Z","filled":true,"color":"#111","size":81,"opacity":1,"strokeWidth":0}},
{"data":{"name":"h"},"transform":[{"filter":"datum.p==2 && datum.d=='d'"}],"mark":{"type":"point","shape":"M0,0L0.55,-2L-0.55,-2Z","filled":true,"color":"#111","size":81,"opacity":1,"strokeWidth":0}},
{"data":{"name":"c"},"transform":[{"filter":"datum.p==2"}],"mark":{"type":"point","shape":"circle","filled":false,"color":"#1a7cc0","strokeWidth":2.6,"size":812,"opacity":1}},
{"data":{"name":"c"},"transform":[{"filter":"datum.p==2"}],"mark":{"type":"text","fontWeight":"bold","fontSize":26,"color":"#1a7cc0","align":"center","baseline":"middle","dy":1},"encoding":{"text":{"field":"n"}}},
{"data":{"name":"tt"},"transform":[{"filter":"datum.p==2"}],"mark":{"type":"text","fontSize":21,"color":"#1a7cc0","align":"left","baseline":"alphabetic"},"encoding":{"text":{"field":"txt"}}},
{"data":{"name":"lb"},"transform":[{"filter":"datum.p==2"}],"mark":{"type":"text","fontSize":18,"fontStyle":"italic","color":"#111","align":"left","baseline":"alphabetic"},"encoding":{"text":{"field":"txt"}}}
]},
{"width":303,"height":227,
"encoding":{"x":{"field":"t","type":"quantitative","axis":null,"scale":{"domain":[0,3030],"nice":false,"zero":false}},"y":{"field":"v","type":"quantitative","axis":null,"scale":{"domain":[-2.102,7.440],"nice":false,"zero":false}}},
"layer":[
{"data":{"name":"w"},"transform":[{"filter":"datum.p==7"}],"mark":{"type":"line","interpolate":"monotone","color":"#111","strokeWidth":1.3}},
{"data":{"name":"r"},"transform":[{"filter":"datum.p==7"}],"mark":{"type":"rule","color":"#222","strokeWidth":1},"encoding":{"x2":{"field":"t2"}}},
{"data":{"name":"a"},"transform":[{"filter":"datum.p==7"}],"mark":{"type":"rule","color":"#222","strokeWidth":1},"encoding":{"y2":{"field":"v2"}}},
{"data":{"name":"h"},"transform":[{"filter":"datum.p==7 && datum.d=='u'"}],"mark":{"type":"point","shape":"M0,0L0.55,2L-0.55,2Z","filled":true,"color":"#111","size":81,"opacity":1,"strokeWidth":0}},
{"data":{"name":"h"},"transform":[{"filter":"datum.p==7 && datum.d=='d'"}],"mark":{"type":"point","shape":"M0,0L0.55,-2L-0.55,-2Z","filled":true,"color":"#111","size":81,"opacity":1,"strokeWidth":0}},
{"data":{"name":"c"},"transform":[{"filter":"datum.p==7"}],"mark":{"type":"point","shape":"circle","filled":false,"color":"#1a7cc0","strokeWidth":2.6,"size":812,"opacity":1}},
{"data":{"name":"c"},"transform":[{"filter":"datum.p==7"}],"mark":{"type":"text","fontWeight":"bold","fontSize":26,"color":"#1a7cc0","align":"center","baseline":"middle","dy":1},"encoding":{"text":{"field":"n"}}},
{"data":{"name":"tt"},"transform":[{"filter":"datum.p==7"}],"mark":{"type":"text","fontSize":21,"color":"#1a7cc0","align":"left","baseline":"alphabetic"},"encoding":{"text":{"field":"txt"}}},
{"data":{"name":"lb"},"transform":[{"filter":"datum.p==7"}],"mark":{"type":"text","fontSize":18,"fontStyle":"italic","color":"#111","align":"left","baseline":"alphabetic"},"encoding":{"text":{"field":"txt"}}}
]},
{"width":302,"height":227,
"encoding":{"x":{"field":"t","type":"quantitative","axis":null,"scale":{"domain":[0,3020],"nice":false,"zero":false}},"y":{"field":"v","type":"quantitative","axis":null,"scale":{"domain":[-0.392,0.516],"nice":false,"zero":false}}},
"layer":[
{"data":{"name":"w"},"transform":[{"filter":"datum.p==3"}],"mark":{"type":"line","interpolate":"linear","color":"#111","strokeWidth":1.5}},
{"data":{"name":"r"},"transform":[{"filter":"datum.p==3"}],"mark":{"type":"rule","color":"#222","strokeWidth":1},"encoding":{"x2":{"field":"t2"}}},
{"data":{"name":"a"},"transform":[{"filter":"datum.p==3"}],"mark":{"type":"rule","color":"#222","strokeWidth":1},"encoding":{"y2":{"field":"v2"}}},
{"data":{"name":"h"},"transform":[{"filter":"datum.p==3 && datum.d=='u'"}],"mark":{"type":"point","shape":"M0,0L0.55,2L-0.55,2Z","filled":true,"color":"#111","size":81,"opacity":1,"strokeWidth":0}},
{"data":{"name":"h"},"transform":[{"filter":"datum.p==3 && datum.d=='d'"}],"mark":{"type":"point","shape":"M0,0L0.55,-2L-0.55,-2Z","filled":true,"color":"#111","size":81,"opacity":1,"strokeWidth":0}},
{"data":{"name":"c"},"transform":[{"filter":"datum.p==3"}],"mark":{"type":"point","shape":"circle","filled":false,"color":"#1a7cc0","strokeWidth":2.6,"size":812,"opacity":1}},
{"data":{"name":"c"},"transform":[{"filter":"datum.p==3"}],"mark":{"type":"text","fontWeight":"bold","fontSize":26,"color":"#1a7cc0","align":"center","baseline":"middle","dy":1},"encoding":{"text":{"field":"n"}}},
{"data":{"name":"tt"},"transform":[{"filter":"datum.p==3"}],"mark":{"type":"text","fontSize":21,"color":"#1a7cc0","align":"left","baseline":"alphabetic"},"encoding":{"text":{"field":"txt"}}},
{"data":{"name":"lb"},"transform":[{"filter":"datum.p==3"}],"mark":{"type":"text","fontSize":18,"fontStyle":"italic","color":"#111","align":"left","baseline":"alphabetic"},"encoding":{"text":{"field":"txt"}}}
]},
{"width":303,"height":227,
"encoding":{"x":{"field":"t","type":"quantitative","axis":null,"scale":{"domain":[0,3030],"nice":false,"zero":false}},"y":{"field":"v","type":"quantitative","axis":null,"scale":{"domain":[-2.656,5.995],"nice":false,"zero":false}}},
"layer":[
{"data":{"name":"w"},"transform":[{"filter":"datum.p==8"}],"mark":{"type":"line","interpolate":"linear","color":"#111","strokeWidth":1.3}},
{"data":{"name":"r"},"transform":[{"filter":"datum.p==8"}],"mark":{"type":"rule","color":"#222","strokeWidth":1},"encoding":{"x2":{"field":"t2"}}},
{"data":{"name":"a"},"transform":[{"filter":"datum.p==8"}],"mark":{"type":"rule","color":"#222","strokeWidth":1},"encoding":{"y2":{"field":"v2"}}},
{"data":{"name":"h"},"transform":[{"filter":"datum.p==8 && datum.d=='u'"}],"mark":{"type":"point","shape":"M0,0L0.55,2L-0.55,2Z","filled":true,"color":"#111","size":81,"opacity":1,"strokeWidth":0}},
{"data":{"name":"h"},"transform":[{"filter":"datum.p==8 && datum.d=='d'"}],"mark":{"type":"point","shape":"M0,0L0.55,-2L-0.55,-2Z","filled":true,"color":"#111","size":81,"opacity":1,"strokeWidth":0}},
{"data":{"name":"c"},"transform":[{"filter":"datum.p==8"}],"mark":{"type":"point","shape":"circle","filled":false,"color":"#1a7cc0","strokeWidth":2.6,"size":812,"opacity":1}},
{"data":{"name":"c"},"transform":[{"filter":"datum.p==8"}],"mark":{"type":"text","fontWeight":"bold","fontSize":26,"color":"#1a7cc0","align":"center","baseline":"middle","dy":1},"encoding":{"text":{"field":"n"}}},
{"data":{"name":"tt"},"transform":[{"filter":"datum.p==8"}],"mark":{"type":"text","fontSize":21,"color":"#1a7cc0","align":"left","baseline":"alphabetic"},"encoding":{"text":{"field":"txt"}}},
{"data":{"name":"lb"},"transform":[{"filter":"datum.p==8"}],"mark":{"type":"text","fontSize":18,"fontStyle":"italic","color":"#111","align":"left","baseline":"alphabetic"},"encoding":{"text":{"field":"txt"}}}
]},
{"width":302,"height":227,
"encoding":{"x":{"field":"t","type":"quantitative","axis":null,"scale":{"domain":[0,3020],"nice":false,"zero":false}},"y":{"field":"v","type":"quantitative","axis":null,"scale":{"domain":[-3.326,3.830],"nice":false,"zero":false}}},
"layer":[
{"data":{"name":"w"},"transform":[{"filter":"datum.p==4"}],"mark":{"type":"line","interpolate":"natural","color":"#111","strokeWidth":1.3}},
{"data":{"name":"r"},"transform":[{"filter":"datum.p==4"}],"mark":{"type":"rule","color":"#222","strokeWidth":1},"encoding":{"x2":{"field":"t2"}}},
{"data":{"name":"a"},"transform":[{"filter":"datum.p==4"}],"mark":{"type":"rule","color":"#222","strokeWidth":1},"encoding":{"y2":{"field":"v2"}}},
{"data":{"name":"h"},"transform":[{"filter":"datum.p==4 && datum.d=='u'"}],"mark":{"type":"point","shape":"M0,0L0.55,2L-0.55,2Z","filled":true,"color":"#111","size":81,"opacity":1,"strokeWidth":0}},
{"data":{"name":"h"},"transform":[{"filter":"datum.p==4 && datum.d=='d'"}],"mark":{"type":"point","shape":"M0,0L0.55,-2L-0.55,-2Z","filled":true,"color":"#111","size":81,"opacity":1,"strokeWidth":0}},
{"data":{"name":"c"},"transform":[{"filter":"datum.p==4"}],"mark":{"type":"point","shape":"circle","filled":false,"color":"#1a7cc0","strokeWidth":2.6,"size":812,"opacity":1}},
{"data":{"name":"c"},"transform":[{"filter":"datum.p==4"}],"mark":{"type":"text","fontWeight":"bold","fontSize":26,"color":"#1a7cc0","align":"center","baseline":"middle","dy":1},"encoding":{"text":{"field":"n"}}},
{"data":{"name":"tt"},"transform":[{"filter":"datum.p==4"}],"mark":{"type":"text","fontSize":21,"color":"#1a7cc0","align":"left","baseline":"alphabetic"},"encoding":{"text":{"field":"txt"}}},
{"data":{"name":"lb"},"transform":[{"filter":"datum.p==4"}],"mark":{"type":"text","fontSize":18,"fontStyle":"italic","color":"#111","align":"left","baseline":"alphabetic"},"encoding":{"text":{"field":"txt"}}}
]},
{"width":303,"height":227,
"encoding":{"x":{"field":"t","type":"quantitative","axis":null,"scale":{"domain":[0,3030],"nice":false,"zero":false}},"y":{"field":"v","type":"quantitative","axis":null,"scale":{"domain":[-2.912,3.475],"nice":false,"zero":false}}},
"layer":[
{"data":{"name":"w"},"transform":[{"filter":"datum.p==9"}],"mark":{"type":"line","interpolate":"natural","color":"#111","strokeWidth":1.3}},
{"data":{"name":"r"},"transform":[{"filter":"datum.p==9"}],"mark":{"type":"rule","color":"#222","strokeWidth":1},"encoding":{"x2":{"field":"t2"}}},
{"data":{"name":"a"},"transform":[{"filter":"datum.p==9"}],"mark":{"type":"rule","color":"#222","strokeWidth":1},"encoding":{"y2":{"field":"v2"}}},
{"data":{"name":"h"},"transform":[{"filter":"datum.p==9 && datum.d=='u'"}],"mark":{"type":"point","shape":"M0,0L0.55,2L-0.55,2Z","filled":true,"color":"#111","size":81,"opacity":1,"strokeWidth":0}},
{"data":{"name":"h"},"transform":[{"filter":"datum.p==9 && datum.d=='d'"}],"mark":{"type":"point","shape":"M0,0L0.55,-2L-0.55,-2Z","filled":true,"color":"#111","size":81,"opacity":1,"strokeWidth":0}},
{"data":{"name":"c"},"transform":[{"filter":"datum.p==9"}],"mark":{"type":"point","shape":"circle","filled":false,"color":"#1a7cc0","strokeWidth":2.6,"size":812,"opacity":1}},
{"data":{"name":"c"},"transform":[{"filter":"datum.p==9"}],"mark":{"type":"text","fontWeight":"bold","fontSize":26,"color":"#1a7cc0","align":"center","baseline":"middle","dy":1},"encoding":{"text":{"field":"n"}}},
{"data":{"name":"tt"},"transform":[{"filter":"datum.p==9"}],"mark":{"type":"text","fontSize":21,"color":"#1a7cc0","align":"left","baseline":"alphabetic"},"encoding":{"text":{"field":"txt"}}},
{"data":{"name":"lb"},"transform":[{"filter":"datum.p==9"}],"mark":{"type":"text","fontSize":18,"fontStyle":"italic","color":"#111","align":"left","baseline":"alphabetic"},"encoding":{"text":{"field":"txt"}}}
]},
{"width":302,"height":222,"view":{"stroke":null},
"encoding":{"x":{"field":"t","type":"quantitative","axis":null,"scale":{"domain":[0,3020],"nice":false,"zero":false}},"y":{"field":"v","type":"quantitative","axis":null,"scale":{"domain":[-3.745,7.884],"nice":false,"zero":false}}},
"layer":[
{"data":{"name":"fr"},"mark":{"type":"rule","color":"#333","strokeWidth":1.5},"encoding":{"y2":{"field":"v2"}}},
{"data":{"name":"w"},"transform":[{"filter":"datum.p==5"}],"mark":{"type":"line","interpolate":"linear","color":"#111","strokeWidth":1.3}},
{"data":{"name":"r"},"transform":[{"filter":"datum.p==5"}],"mark":{"type":"rule","color":"#222","strokeWidth":1},"encoding":{"x2":{"field":"t2"}}},
{"data":{"name":"a"},"transform":[{"filter":"datum.p==5"}],"mark":{"type":"rule","color":"#222","strokeWidth":1},"encoding":{"y2":{"field":"v2"}}},
{"data":{"name":"h"},"transform":[{"filter":"datum.p==5 && datum.d=='u'"}],"mark":{"type":"point","shape":"M0,0L0.55,2L-0.55,2Z","filled":true,"color":"#111","size":81,"opacity":1,"strokeWidth":0}},
{"data":{"name":"h"},"transform":[{"filter":"datum.p==5 && datum.d=='d'"}],"mark":{"type":"point","shape":"M0,0L0.55,-2L-0.55,-2Z","filled":true,"color":"#111","size":81,"opacity":1,"strokeWidth":0}},
{"data":{"name":"c"},"transform":[{"filter":"datum.p==5"}],"mark":{"type":"point","shape":"circle","filled":false,"color":"#1a7cc0","strokeWidth":2.6,"size":812,"opacity":1}},
{"data":{"name":"c"},"transform":[{"filter":"datum.p==5"}],"mark":{"type":"text","fontWeight":"bold","fontSize":26,"color":"#1a7cc0","align":"center","baseline":"middle","dy":1},"encoding":{"text":{"field":"n"}}},
{"data":{"name":"tt"},"transform":[{"filter":"datum.p==5"}],"mark":{"type":"text","fontSize":21,"color":"#1a7cc0","align":"left","baseline":"alphabetic"},"encoding":{"text":{"field":"txt"}}},
{"data":{"name":"lb"},"transform":[{"filter":"datum.p==5"}],"mark":{"type":"text","fontSize":18,"fontStyle":"italic","color":"#111","align":"left","baseline":"alphabetic"},"encoding":{"text":{"field":"txt"}}}
]}
]
}
